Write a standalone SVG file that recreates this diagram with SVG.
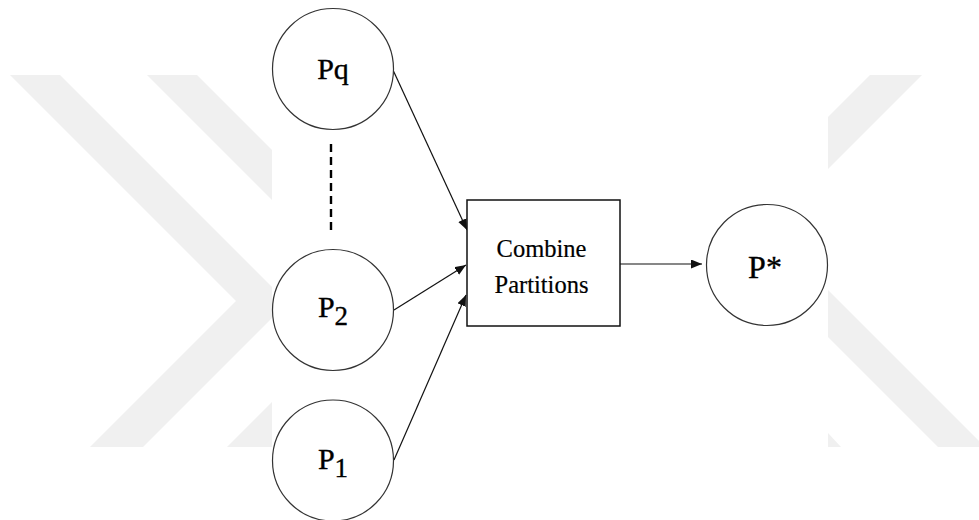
<svg xmlns="http://www.w3.org/2000/svg" width="979" height="520" viewBox="0 0 979 520">
  <style>
    .node { fill: #ffffff; stroke: #333333; stroke-width: 1.2; }
    .box { fill: #ffffff; stroke: #111111; stroke-width: 1.5; }
    .lbl { font-family: "Liberation Serif", "Times New Roman", serif; fill: #000000; stroke: #000000; stroke-width: 0.35; text-anchor: middle; }
    .edge { fill: none; stroke: #111111; stroke-width: 1.2; }
    .dash { fill: none; stroke: #000000; stroke-width: 2.4; stroke-dasharray: 8 5; }
    .mark { fill: #f0f0f0; }
  </style>
  <defs>
    <marker id="arrow" markerUnits="userSpaceOnUse" markerWidth="12" markerHeight="10" refX="11" refY="4.5" orient="auto">
      <path d="M0,0 L11,4.5 L0,9 z" fill="#111111"/>
    </marker>
  </defs>

  <rect width="979" height="520" fill="#ffffff"/>

  <!-- faint chevron background marks -->
  <g id="background-marks">
    <polygon class="mark" points="10,75 60,75 272,287 272,318 143,447 90,447 236,301"/>
    <polygon class="mark" points="147,75 197,75 272,150 272,200"/>
    <polygon class="mark" points="227,447 272,402 272,447"/>
    <polygon class="mark" points="870,75 922,75 828,169 828,117"/>
    <polygon class="mark" points="828,290 979,441 979,447 938,447 828,337"/>
    <polygon class="mark" points="828,433 841,447 828,447"/>
  </g>

  <!-- connectors -->
  <g id="connectors">
    <line class="dash" x1="331" y1="144" x2="331" y2="233"/>
    <line class="edge" x1="393" y1="70" x2="467" y2="230" marker-end="url(#arrow)"/>
    <line class="edge" x1="394" y1="310" x2="466" y2="265" marker-end="url(#arrow)"/>
    <line class="edge" x1="394" y1="460" x2="466" y2="295" marker-end="url(#arrow)"/>
    <line class="edge" x1="620" y1="264" x2="702" y2="264" marker-end="url(#arrow)"/>
  </g>

  <g id="node-pq">
    <circle class="node" cx="333" cy="69" r="60.5"/>
    <text class="lbl" x="333" y="79" font-size="30">Pq</text>
  </g>

  <g id="node-p2">
    <circle class="node" cx="333" cy="310" r="60.5"/>
    <text class="lbl" x="333" y="317" font-size="30">P<tspan font-size="27" dy="8">2</tspan></text>
  </g>

  <g id="node-p1">
    <circle class="node" cx="333" cy="460.5" r="60.5"/>
    <text class="lbl" x="333" y="469" font-size="30">P<tspan font-size="27" dy="8">1</tspan></text>
  </g>

  <g id="node-combine">
    <rect class="box" x="467" y="200" width="153" height="126"/>
    <text class="lbl" x="541.5" y="257" font-size="24.5" style="stroke-width:0.2">Combine</text>
    <text class="lbl" x="541.5" y="293" font-size="24.5" style="stroke-width:0.2">Partitions</text>
  </g>

  <g id="node-pstar">
    <circle class="node" cx="767" cy="265" r="60.5"/>
    <text class="lbl" x="765" y="278" font-size="32">P*</text>
  </g>
</svg>
